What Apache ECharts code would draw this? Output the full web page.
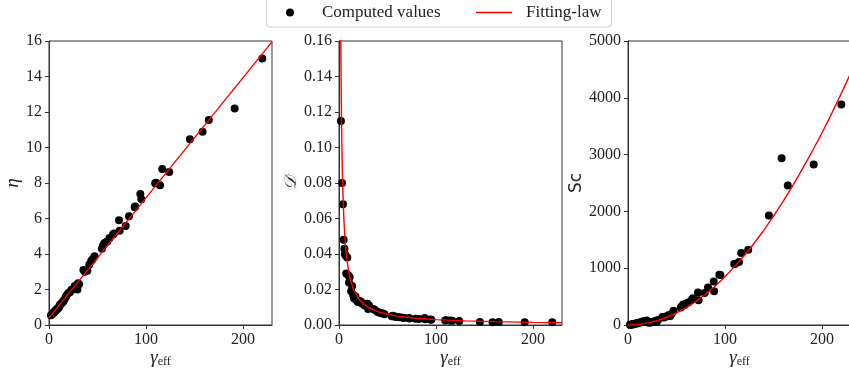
<!DOCTYPE html>
<html>
<head>
<meta charset="utf-8">
<script src="https://cdn.jsdelivr.net/npm/echarts@6/dist/echarts.min.js"></script>
<style>
  html, body { margin: 0; background: #fff; }
  #chart { width: 849px; height: 373px; }
</style>
</head>
<body>
<div id="chart"></div>
<script>
// computed values (same gamma_eff for the three panels)
const gammaEff = [2.0, 3.2, 4.1, 4.8, 5.6, 6.0, 7.0, 7.5, 8.5, 9.5, 10.3, 11.0, 12.5, 13.5, 14.5, 15.5, 17.0, 18.0, 19.5,
  21.5, 23.0, 24.0, 26.5, 28.0, 29.3, 30.0, 31.0, 35.5, 37.0, 39.5, 41.5, 43.5, 45.0, 47.0, 54.5, 55.5, 57.0, 58.5, 60.0,
  62.5, 66.0, 67.0, 72.2, 72.8, 79.1, 82.5, 88.4, 88.8, 94.2, 95.2, 109.5, 110.5, 114.5, 116.8, 124.0, 145.3, 158.4,
  164.8, 191.5, 220.0]
const eta = [0.55, 0.60, 0.66, 0.70, 0.74, 0.76, 0.82, 0.87, 0.90, 0.95, 1.00, 1.12, 1.20, 1.25, 1.31, 1.40, 1.55, 1.65, 1.78,
  1.85, 1.97, 2.00, 2.20, 2.16, 2.00, 2.35, 2.30, 3.10, 3.00, 3.05, 3.40, 3.60, 3.70, 3.88, 4.30, 4.45, 4.60, 4.65, 4.70,
  4.90, 5.10, 5.15, 5.90, 5.31, 5.58, 6.12, 6.63, 6.67, 7.38, 7.08, 7.98, 8.02, 7.87, 8.79, 8.62, 10.46, 10.89,
  11.55, 12.20, 15.02]
const diffusion = [0.115, 0.080, 0.068, 0.048, 0.043, 0.040, 0.039, 0.029, 0.038, 0.028, 0.024, 0.027, 0.019, 0.022, 0.017, 0.015, 0.016, 0.014, 0.013,
  0.0135, 0.013, 0.012, 0.011, 0.012, 0.012, 0.009, 0.011, 0.009, 0.0085, 0.0075, 0.007, 0.0068, 0.0065, 0.006, 0.005, 0.0052, 0.0048, 0.0046, 0.0045,
  0.0043, 0.0041, 0.004, 0.0039, 0.0036, 0.0035, 0.0034, 0.0039, 0.0032, 0.0031, 0.0030, 0.0026, 0.0027, 0.0025, 0.0024, 0.0022, 0.0017, 0.0015,
  0.0017, 0.0015, 0.0015]
const schmidt = [3, 6, 9, 12, 15, 17, 20, 24, 26, 30, 34, 38, 44, 50, 56, 60, 66, 72, 78,
  40, 45, 50, 60, 66, 55, 80, 90, 140, 130, 150, 170, 160, 200, 250, 310, 330, 360, 350, 380,
  400, 450, 470, 574, 434, 563, 662, 768, 592, 885, 880, 1073, 1080, 1108, 1266, 1325, 1928, 2937,
  2455, 2825, 3880]

// fitting laws
const etaFitX = [0, 230]
const etaFitY = [0.4, 15.95]
const diffFitX = [1.6, 1.8, 2, 2.5, 3, 3.5, 4, 5, 6, 7, 8, 10, 12, 15, 20, 25, 30, 40, 50, 60, 80, 100, 130, 160, 200, 230]
const diffFitY = [0.19, 0.167, 0.15, 0.12, 0.1, 0.086, 0.075, 0.06, 0.05, 0.043, 0.0375, 0.03, 0.025, 0.02, 0.015, 0.012,
  0.01, 0.0075, 0.006, 0.005, 0.0038, 0.003, 0.0023, 0.0019, 0.0015, 0.0013]
const scFitX = [0, 20, 40, 60, 80, 100, 120, 140, 160, 180, 200, 220, 230]
const scFitY = [0, 34, 136, 306, 544, 850, 1224, 1666, 2176, 2754, 3380, 4080, 4450]

const xTicks = [0, 100, 200]

const serif = 'Liberation Serif'
const axisColor = '#333'
const pairs = (xs, ys) => xs.map((x, i) => [x, ys[i]])

const chart = echarts.init(document.getElementById('chart'))

const grid = left => ({
  left, top: 41, width: 223, height: 284,
  outerBoundsMode: 'none',
  show: true, borderColor: axisColor, borderWidth: 1
})

const xAxis = gridIndex => ({
  gridIndex,
  type: 'value',
  min: 0,
  max: 230,
  name: '{g|γ}{s|eff}',
  nameLocation: 'middle',
  nameGap: 22,
  nameMoveOverlap: false,
  nameTextStyle: {
    rich: {
      g: { fontFamily: serif, fontStyle: 'italic', fontSize: 19, color: '#222' },
      s: { fontFamily: serif, fontSize: 12, color: '#222', padding: [9, 0, 0, 0] }
    }
  },
  axisLine: { lineStyle: { color: axisColor } },
  axisTick: { customValues: xTicks, length: 4, lineStyle: { color: axisColor } },
  axisLabel: { customValues: xTicks, fontFamily: serif, fontSize: 16, color: '#222', margin: 7 },
  splitLine: { show: false }
})

const yAxis = (gridIndex, max, interval, name, nameGap, nameFont, fmt) => ({
  gridIndex,
  type: 'value',
  min: 0,
  max,
  interval,
  name,
  nameLocation: 'middle',
  nameGap,
  nameTextStyle: nameFont,
  axisLine: { show: true, lineStyle: { color: axisColor } },
  axisTick: { show: true, length: 4, lineStyle: { color: axisColor } },
  axisLabel: { fontFamily: serif, fontSize: 16, color: '#222', margin: 7, formatter: fmt },
  splitLine: { show: false }
})

const dots = (i, ys) => ({
  name: 'Computed values',
  type: 'scatter',
  xAxisIndex: i,
  yAxisIndex: i,
  symbolSize: 8,
  itemStyle: { color: '#000', opacity: 1 },
  data: pairs(gammaEff, ys)
})

const fit = (i, xs, ys, smooth) => ({
  name: 'Fitting-law',
  type: 'line',
  xAxisIndex: i,
  yAxisIndex: i,
  symbol: 'none',
  smooth,
  z: 3,
  lineStyle: { color: '#ff0000', width: 1.4 },
  itemStyle: { color: '#ff0000' },
  data: pairs(xs, ys)
})

const legendText = pad => ({
  fontFamily: serif, fontSize: 17, color: '#222',
  rich: { t: { fontFamily: serif, fontSize: 17, color: '#222', padding: [0, 0, 0, pad] } }
})

chart.setOption({
  backgroundColor: '#fff',
  animation: false,
  // legend frame
  graphic: [{
    type: 'rect',
    shape: { x: 266.5, y: -4, width: 345, height: 31, r: 3 },
    style: { fill: '#fff', stroke: '#d0d0d0', lineWidth: 1 },
    z: 0
  }],
  legend: [{
    left: 286,
    top: 4,
    padding: 0,
    itemWidth: 8,
    itemHeight: 8,
    selectedMode: false,
    formatter: '{t|{name}}',
    textStyle: legendText(23),
    data: [{ name: 'Computed values', icon: 'circle', itemStyle: { color: '#000' } }]
  }, {
    left: 476,
    top: 4,
    padding: 0,
    itemWidth: 36,
    itemHeight: 8,
    selectedMode: false,
    formatter: '{t|{name}}',
    textStyle: legendText(9),
    data: [{ name: 'Fitting-law', icon: 'path://M0,0H36V1.5H0Z', itemStyle: { color: '#ff0000' } }]
  }],
  grid: [grid(49), grid(339), grid(628)],
  xAxis: [xAxis(0), xAxis(1), xAxis(2)],
  yAxis: [
    yAxis(0, 16, 2, 'η', 23, { fontFamily: serif, fontStyle: 'italic', fontSize: 19, color: '#222' }),
    yAxis(1, 0.16, 0.02, '𝒟', 37, { fontFamily: 'DejaVu Serif', fontStyle: 'italic', fontSize: 17, color: '#222' },
      v => v.toFixed(2)),
    yAxis(2, 5000, 1000, 'Sc', 37, { fontFamily: 'DejaVu Sans', fontSize: 17, color: '#222' }, v => String(v))
  ],
  series: [
    dots(0, eta), fit(0, etaFitX, etaFitY, false),
    dots(1, diffusion), fit(1, diffFitX, diffFitY, false),
    dots(2, schmidt), fit(2, scFitX, scFitY, true)
  ]
})
</script>
</body>
</html>
